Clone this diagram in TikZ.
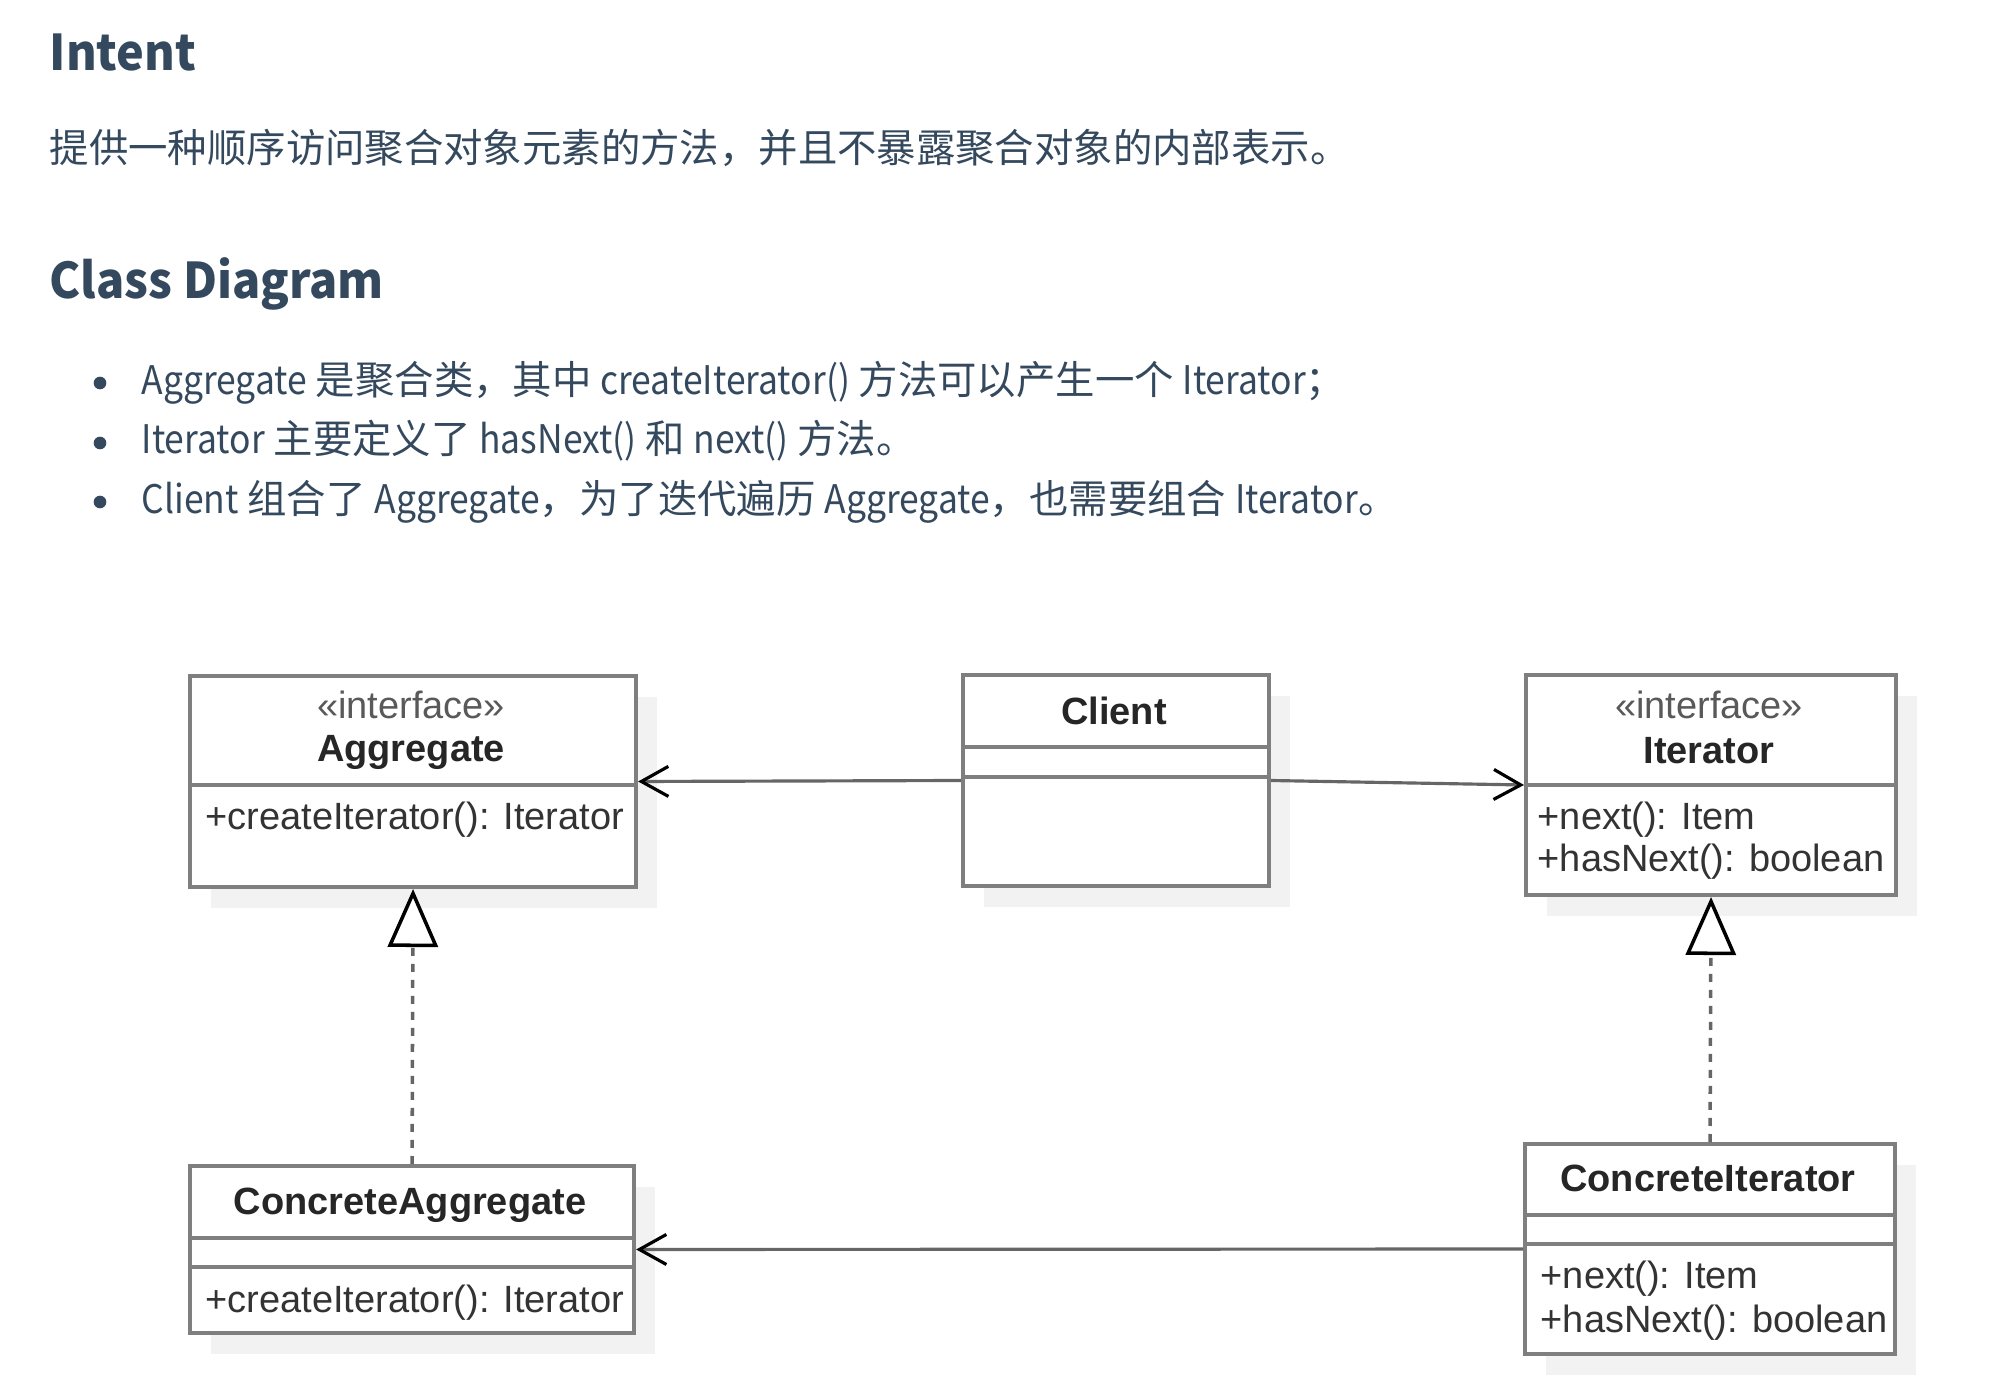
\documentclass[tikz,border=0pt]{standalone}
\usepackage{fontspec}
\setmainfont{Noto Sans CJK SC}
\newfontfamily\latfont{Noto Sans CJK SC}[FakeStretch=0.9]
\newfontfamily\headfont{Noto Sans CJK SC}[FakeStretch=0.95]
\newfontfamily\umlfont{Liberation Sans}
\newcommand\lat[1]{{\latfont #1}}
\usetikzlibrary{arrows.meta,shadows}
\definecolor{ink}{HTML}{34495E}
\definecolor{boxline}{HTML}{7F7F7F}
\tikzset{
 head/.style={anchor=base west,text=ink,inner sep=0pt,font=\headfont\bfseries\fontsize{14}{17}\selectfont},
 para/.style={anchor=base west,text=ink,inner sep=0pt,font=\fontsize{11.2}{14}\selectfont},
 classbox/.style={draw=boxline,line width=1.1pt,fill=white,anchor=north west,inner sep=0pt,
   drop shadow={shadow xshift=.21cm,shadow yshift=-.21cm,fill=black!5,opacity=1}},
 umltext/.style={inner sep=0pt,font=\umlfont\fontsize{10.8}{13}\selectfont},
 member/.style={umltext,anchor=west,text=black!80},
 stereo/.style={umltext,text=black!65},
 cname/.style={umltext,text=black!85,font=\umlfont\bfseries\fontsize{10.8}{13}\selectfont},
 divider/.style={draw=boxline,line width=1.1pt},
 assoc/.style={draw=black!60,line width=.9pt,-{Straight Barb[length=.27cm,width=.3cm,color=black]}},
 realize/.style={draw=black!60,line width=1pt,dash pattern=on .08cm off .08cm,
   -{Triangle[length=.58cm,width=.5cm,color=black,fill=white]}}
}
\begin{document}
\begin{tikzpicture}[x=0.01cm,y=-0.01cm]
 \useasboundingbox (0,0) rectangle (2014,1394);
 % text above the diagram
 \node[head] (intent) at (49,71) {Intent};
 \node[para] (intenttxt) at (49,163) {提供一种顺序访问聚合对象元素的方法，并且不暴露聚合对象的内部表示。};
 \node[head] (cdhead) at (49,298) {Class Diagram};
 \foreach \yy in {383,443,502} \fill[ink] (100,\yy) circle (1.8pt);
 \node[para] (item1) at (141,394) {\lat{Aggregate} 是聚合类，其中 \lat{createIterator()} 方法可以产生一个 \lat{Iterator}；};
 \node[para] (item2) at (141,453) {\lat{Iterator} 主要定义了 \lat{hasNext()} 和 \lat{next()} 方法。};
 \node[para] (item3) at (141,513) {\lat{Client} 组合了 \lat{Aggregate}，为了迭代遍历 \lat{Aggregate}，也需要组合 \lat{Iterator}。};
 % classes
 \node[classbox,minimum width=4.46cm,minimum height=2.11cm] (agg) at (188,674) {};
 \draw[divider] (agg.north west) ++(0,111) -- ++(446,0);
 \node[stereo] (aggst) at (411,705) {«interface»};
 \node[cname] (aggname) at (411,752) {Aggregate};
 \node[member] (aggm) at (205,820) {+createIterator(): Iterator};

 \node[classbox,minimum width=3.06cm,minimum height=2.11cm] (client) at (961,673) {};
 \draw[divider] (client.north west) ++(0,74) -- ++(306,0);
 \draw[divider] (client.north west) ++(0,104) -- ++(306,0);
 \node[cname] (clientname) at (1114,711) {Client};

 \node[classbox,minimum width=3.70cm,minimum height=2.20cm] (iter) at (1524,673) {};
 \draw[divider] (iter.north west) ++(0,112) -- ++(370,0);
 \node[stereo] (iterst) at (1709,705) {«interface»};
 \node[cname] (itername) at (1709,751) {Iterator};
 \node[member] (iterm1) at (1537,820) {+next(): Item};
 \node[member] (iterm2) at (1537,862) {+hasNext(): boolean};

 \node[classbox,minimum width=4.44cm,minimum height=1.67cm] (cagg) at (188,1164) {};
 \draw[divider] (cagg.north west) ++(0,74) -- ++(444,0);
 \draw[divider] (cagg.north west) ++(0,103) -- ++(444,0);
 \node[cname] (caggname) at (410,1205) {ConcreteAggregate};
 \node[member] (caggm) at (205,1303) {+createIterator(): Iterator};

 \node[classbox,minimum width=3.70cm,minimum height=2.10cm] (citer) at (1523,1142) {};
 \draw[divider] (citer.north west) ++(0,73) -- ++(370,0);
 \draw[divider] (citer.north west) ++(0,102) -- ++(370,0);
 \node[cname] (citername) at (1708,1178) {ConcreteIterator};
 \node[member] (citerm1) at (1540,1279) {+next(): Item};
 \node[member] (citerm2) at (1540,1323) {+hasNext(): boolean};
 % relations
 \draw[assoc] (client.west) -- (agg.east);
 \draw[assoc] (client.east) -- (iter.west);
 \draw[assoc] (citer.west) -- (cagg.east);
 \draw[realize] (cagg.north) -- (agg.south);
 \draw[realize] (citer.north) -- (iter.south);
\end{tikzpicture}
\end{document}
